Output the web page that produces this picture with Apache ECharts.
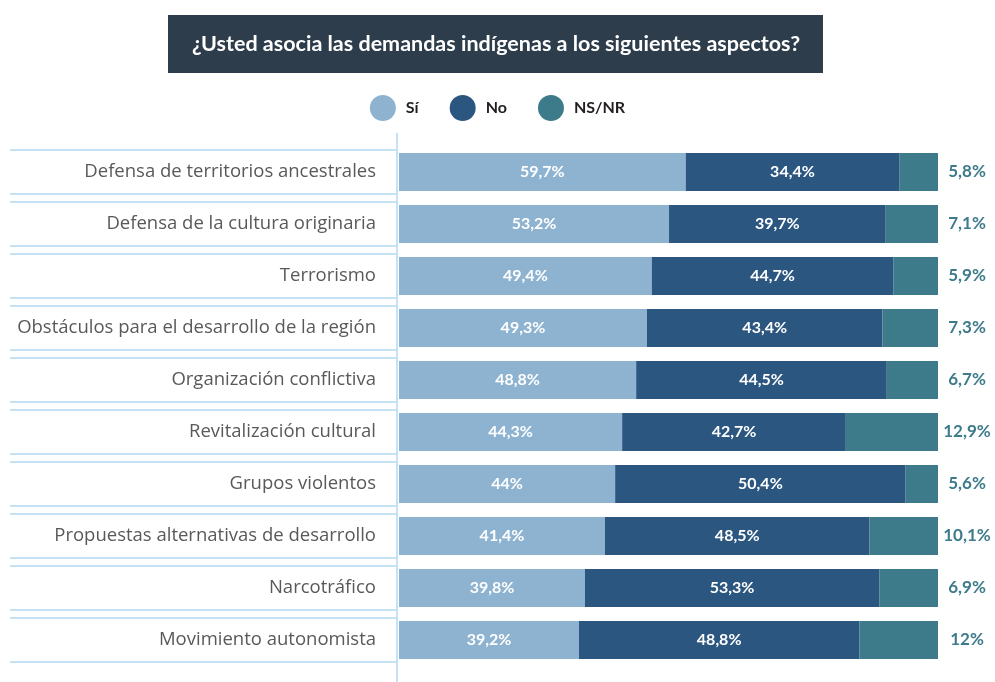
<!DOCTYPE html>
<html lang="es">
<head>
    <meta charset="UTF-8">
    <title>Demandas indígenas</title>
    <style>
      * { padding: 0; margin: 0; }
      body { background: #fff; }
    </style>
</head>
<body>
    <div id="main" style="width: 995px;height:682px;"></div>
    <script src="https://cdn.jsdelivr.net/npm/echarts@6/dist/echarts.min.js"></script>
    <script>
    var categories = [
        'Defensa de territorios ancestrales',
        'Defensa de la cultura originaria',
        'Terrorismo',
        'Obstáculos para el desarrollo de la región',
        'Organización conflictiva',
        'Revitalización cultural',
        'Grupos violentos',
        'Propuestas alternativas de desarrollo',
        'Narcotráfico',
        'Movimiento autonomista'
    ];
    // longitudes de barra
    var siBar = [53.2, 50.1, 46.9, 46.0, 44.0, 41.4, 40.1, 38.2, 34.5, 33.4];
    var noBar = [39.6, 40.2, 44.8, 43.7, 46.5, 41.5, 53.9, 49.1, 54.6, 52.0];
    var nsBar = [7.2, 9.7, 8.3, 10.3, 9.5, 17.1, 6.0, 12.7, 10.9, 14.6];
    // etiquetas impresas
    var siText = ['59,7%', '53,2%', '49,4%', '49,3%', '48,8%', '44,3%', '44%', '41,4%', '39,8%', '39,2%'];
    var noText = ['34,4%', '39,7%', '44,7%', '43,4%', '44,5%', '42,7%', '50,4%', '48,5%', '53,3%', '48,8%'];
    var nsText = ['5,8%', '7,1%', '5,9%', '7,3%', '6,7%', '12,9%', '5,6%', '10,1%', '6,9%', '12%'];

    var FONT = 'Lato';
    var lineColor = '#c4e2f6';
    var colSi = '#8db3d1', colNo = '#2b5680', colNs = '#3d7b8b';

    var option = {
        textStyle: { fontFamily: FONT },
        legend: {
            data: ['Sí', 'No', 'NS/NR'],
            top: 90,
            left: 'center',
            icon: 'circle',
            itemWidth: 26,
            itemHeight: 26,
            itemGap: 31,
            textStyle: { fontSize: 16, fontWeight: 'bold', color: '#231f20', fontFamily: FONT, padding: [0, 0, 0, 5] }
        },
        graphic: [
            { type: 'rect', shape: { x: 168, y: 15, width: 655, height: 58 }, style: { fill: '#2e3d4c' } },
            { type: 'text', x: 496, y: 44, style: {
                text: '¿Usted asocia las demandas indígenas a los siguientes aspectos?',
                fill: '#fff', font: 'bold 21.5px ' + FONT, textAlign: 'center', textVerticalAlign: 'middle' } },
            { type: 'line', shape: { x1: 397, y1: 133, x2: 397, y2: 682 }, style: { stroke: lineColor, lineWidth: 2 } }
        ],
        grid: { left: 399, right: 57, top: 146, bottom: 16 },
        xAxis: { type: 'value', min: 0, max: 100, show: false },
        yAxis: {
            type: 'category',
            data: categories,
            inverse: true,
            axisLine: { show: false },
            axisTick: { show: false },
            axisLabel: { margin: 23, fontSize: 18.5, color: '#595959', fontFamily: 'Open Sans', padding: [4, 0, 0, 0] }
        },
        series: [
            {
                type: 'custom',
                name: 'filas',
                silent: true,
                clip: false,
                encode: { x: 0, y: 1 },
                data: categories.map(function (c, i) { return [0, i]; }),
                renderItem: function (params, api) {
                    var y = api.coord([0, api.value(1)])[1];
                    return {
                        type: 'group',
                        children: [
                            { type: 'line', shape: { x1: 10, y1: y - 22, x2: 397, y2: y - 22 }, style: { stroke: lineColor, lineWidth: 2 } },
                            { type: 'line', shape: { x1: 10, y1: y + 22, x2: 397, y2: y + 22 }, style: { stroke: lineColor, lineWidth: 2 } }
                        ]
                    };
                }
            },
            {
                name: 'Sí', type: 'bar', stack: 'a', barWidth: 38, data: siBar,
                itemStyle: { color: colSi },
                label: { show: true, position: 'inside', color: '#fff', fontWeight: 'bold', fontSize: 16,
                    formatter: function (p) { return siText[p.dataIndex]; } }
            },
            {
                name: 'No', type: 'bar', stack: 'a', barWidth: 38, data: noBar,
                itemStyle: { color: colNo },
                label: { show: true, position: 'inside', color: '#fff', fontWeight: 'bold', fontSize: 16,
                    formatter: function (p) { return noText[p.dataIndex]; } }
            },
            {
                name: 'NS/NR', type: 'bar', stack: 'a', barWidth: 38, data: nsBar,
                itemStyle: { color: colNs },
                label: { show: true, position: 'right', distance: 29, align: 'center', color: colNs,
                    fontWeight: 'bold', fontSize: 17,
                    formatter: function (p) { return nsText[p.dataIndex]; } }
            }
        ]
    };

    var myChart = echarts.init(document.getElementById('main'));
    myChart.setOption(option);
    </script>
</body>
</html>
